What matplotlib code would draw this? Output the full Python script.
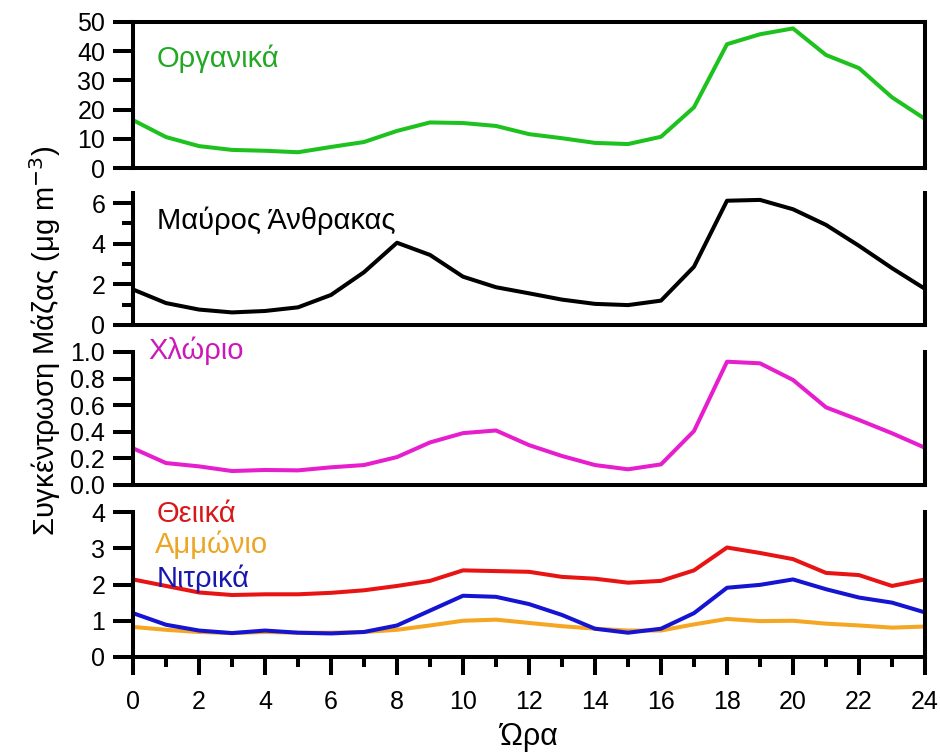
import matplotlib
matplotlib.use("Agg")
import matplotlib.pyplot as plt
from matplotlib.ticker import MultipleLocator, FormatStrFormatter

plt.rcParams['font.family'] = ['Liberation Sans', 'DejaVu Sans']

hours = list(range(25))
organics = [16.4, 10.6, 7.5, 6.2, 5.9, 5.4, 7.2, 8.9, 12.7, 15.6, 15.4, 14.4, 11.6, 10.2, 8.6, 8.2,
            10.7, 20.8, 42.4, 45.8, 47.8, 38.7, 34.2, 24.2, 16.8]
black_carbon = [1.75, 1.08, 0.76, 0.62, 0.69, 0.87, 1.48, 2.6, 4.05, 3.45, 2.38, 1.86, 1.56, 1.25, 1.04,
                0.98, 1.2, 2.87, 6.12, 6.16, 5.7, 4.93, 3.9, 2.8, 1.78]
chloride = [0.276, 0.165, 0.14, 0.105, 0.113, 0.11, 0.133, 0.15, 0.21, 0.32, 0.39, 0.41, 0.30, 0.218,
            0.15, 0.118, 0.155, 0.406, 0.927, 0.915, 0.79, 0.584, 0.489, 0.389, 0.28]
sulfate = [2.14, 1.96, 1.78, 1.71, 1.73, 1.73, 1.77, 1.84, 1.96, 2.1, 2.39, 2.37, 2.35, 2.21, 2.16,
           2.05, 2.1, 2.39, 3.02, 2.87, 2.7, 2.32, 2.26, 1.96, 2.14]
ammonium = [0.83, 0.75, 0.69, 0.66, 0.69, 0.67, 0.67, 0.69, 0.75, 0.87, 1.0, 1.03, 0.94, 0.85, 0.78,
            0.73, 0.73, 0.9, 1.05, 0.99, 1.0, 0.92, 0.87, 0.81, 0.84]
nitrate = [1.21, 0.89, 0.73, 0.66, 0.73, 0.67, 0.65, 0.69, 0.87, 1.28, 1.69, 1.66, 1.46, 1.16, 0.78,
           0.67, 0.78, 1.21, 1.91, 1.99, 2.14, 1.87, 1.64, 1.5, 1.23]

xticks = list(range(0, 25, 2))
ylabel = 'Συγκέντρωση Μάζας (μg m$^{-3}$)'
xlabel = 'Ώρα'

W, H = 940, 755
fig = plt.figure(figsize=(W / 100, H / 100), dpi=100)

def add_ax(top, bottom):
    left, right = 133, 925
    return fig.add_axes([left / W, 1 - bottom / H, (right - left) / W, (bottom - top) / H])

SW = 2.9
LW = 2.9
FS = 18

ax1 = add_ax(22, 168)
ax2 = add_ax(193, 325)
ax3 = add_ax(352, 485)
ax4 = add_ax(512, 657)
axes = [ax1, ax2, ax3, ax4]

ax1.plot(hours, organics, color='#1ec21e', lw=LW)
ax2.plot(hours, black_carbon, color='black', lw=LW)
ax3.plot(hours, chloride, color='#e61ecd', lw=LW)
ax4.plot(hours, ammonium, color='#f5a623', lw=LW)
ax4.plot(hours, sulfate, color='#e81414', lw=LW)
ax4.plot(hours, nitrate, color='#1414d2', lw=LW)

ax1.set_ylim(0, 50)
ax1.yaxis.set_major_locator(MultipleLocator(10))
ax2.set_ylim(0, 6.5)
ax2.yaxis.set_major_locator(MultipleLocator(2))
ax2.yaxis.set_minor_locator(MultipleLocator(1))
ax3.set_ylim(0, 1.0)
ax3.yaxis.set_major_locator(MultipleLocator(0.2))
ax3.yaxis.set_major_formatter(FormatStrFormatter('%.1f'))
ax4.set_ylim(0, 4)
ax4.yaxis.set_major_locator(MultipleLocator(1))

for ax in axes:
    ax.set_xlim(0, 24)
    for s in ax.spines.values():
        s.set_linewidth(SW)
        s.set_capstyle('projecting')
    ax.tick_params(axis='y', which='major', direction='out', length=14.5, width=SW,
                   labelsize=FS, pad=5.5)
    ax.tick_params(axis='y', which='minor', direction='out', length=8, width=SW)
    if ax is not ax4:
        ax.tick_params(axis='x', which='both', bottom=False, labelbottom=False)
    if ax is not ax1:
        ax.spines['top'].set_visible(False)

ax4.set_xticks(xticks)
ax4.xaxis.set_minor_locator(MultipleLocator(1))
ax4.tick_params(axis='x', which='major', direction='out', length=13, width=SW, labelsize=FS, pad=11)
ax4.tick_params(axis='x', which='minor', direction='out', length=7, width=SW)

TFS = 21
def ftext(x, y, s, color):
    fig.text(x / W, 1 - y / H, s, color=color, fontsize=TFS, ha='left', va='baseline')

ftext(157, 67, 'Οργανικά', '#22a822')
ftext(157, 229, 'Μαύρος Άνθρακας', 'black')
ftext(148, 359, 'Χλώριο', '#cc18b8')
ftext(157, 522, 'Θειικά', '#d81818')
ftext(155, 553, 'Αμμώνιο', '#eaa624')
ftext(157, 587, 'Νιτρικά', '#1818b0')

fig.text(45 / W, 1 - 341 / H, ylabel, rotation=90, fontsize=21, ha='center', va='center')
fig.text(529 / W, 1 - 745 / H, xlabel, fontsize=22, ha='center', va='baseline')

fig.savefig('out.png', dpi=100)
